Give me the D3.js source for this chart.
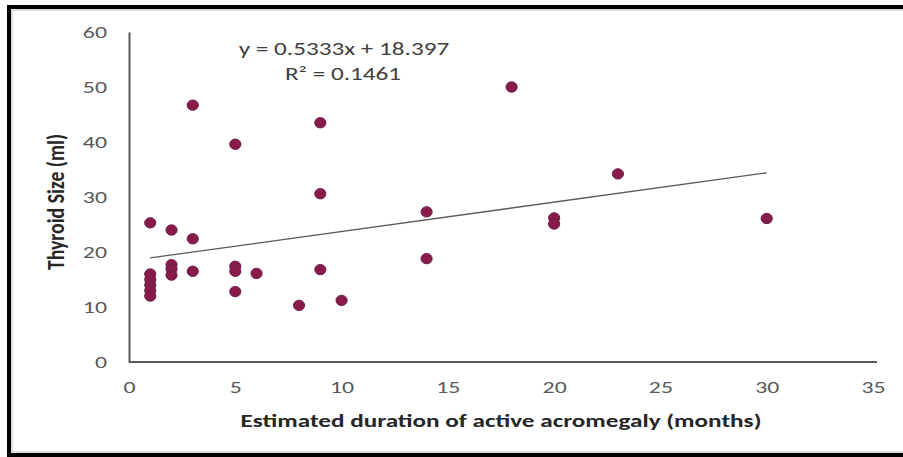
<!DOCTYPE html>
<html>
<head>
<meta charset="utf-8">
<script src="https://cdn.jsdelivr.net/npm/d3@7"></script>
<style>
  html, body { margin: 0; padding: 0; background: #fff; }
  svg { display: block; }
</style>
</head>
<body>
<svg id="chart" width="903" height="457"></svg>
<script>
// Data
const durationMonths = [1, 1, 1, 1, 1, 1, 2, 2, 2, 2, 3, 3, 3, 5, 5, 5, 5, 6, 8, 9, 9, 9, 10, 14, 14, 18, 20, 20, 23, 30];
const thyroidSize    = [25.3, 16, 15, 14, 13, 12, 24, 17.7, 16.9, 15.8, 46.7, 22.4, 16.5, 39.6, 17.4, 16.5, 12.8, 16.1, 10.3, 43.5, 30.6, 16.8, 11.2, 27.3, 18.8, 50, 26.2, 25.1, 34.2, 26.1];
const xTicks = [0, 5, 10, 15, 20, 25, 30, 35];
const yTicks = [0, 10, 20, 30, 40, 50, 60];
const slope = 0.5333, intercept = 18.397;
const trendRange = [1, 30];
const equationLabel = "y = 0.5333x + 18.397";
const r2Label = "R² = 0.1461";
const xTitle = "Estimated duration of active acromegaly (months)";
const yTitle = "Thyroid Size (ml)";

const svg = d3.select("#chart");
const font = "Carlito, Lato, 'Liberation Sans Narrow', sans-serif";
const SX = 1.4; // horizontal stretch of the text in the picture

// frame
svg.append("rect").attr("x", 0).attr("y", 0).attr("width", 903).attr("height", 457).attr("fill", "#fff");
svg.append("rect").attr("x", 9).attr("y", 7).attr("width", 1000).attr("height", 448)
  .attr("fill", "none").attr("stroke", "#000").attr("stroke-width", 4);
svg.append("rect").attr("x", 12).attr("y", 10).attr("width", 1000).attr("height", 442)
  .attr("fill", "none").attr("stroke", "#bbb").attr("stroke-width", 1);

const x = d3.scaleLinear().domain([0, 35]).range([129, 873]);
const y = d3.scaleLinear().domain([0, 60]).range([362, 32]);

// axes
const xAxis = d3.axisBottom(x).tickValues(xTicks).tickSize(0).tickPadding(0);
const gx = svg.append("g").attr("transform", `translate(0,${y(0)})`).call(xAxis);
gx.select(".domain").attr("stroke", "#595959").attr("stroke-width", 2)
  .attr("d", `M${x(0)},0H${x(35) + 4}`);
gx.selectAll(".tick text").attr("font-family", font).attr("font-size", 17).attr("fill", "#595959")
  .attr("x", 0).attr("y", 0).attr("dy", null)
  .attr("transform", `translate(0,31) scale(${SX},1)`);

const yAxis = d3.axisLeft(y).tickValues(yTicks).tickSize(0).tickPadding(0);
const gy = svg.append("g").attr("transform", `translate(${x(0)},0)`).call(yAxis);
gy.select(".domain").attr("stroke", "#595959").attr("stroke-width", 2);
gy.selectAll(".tick text").attr("font-family", font).attr("font-size", 17).attr("fill", "#595959")
  .attr("x", 0).attr("dy", "0.35em")
  .attr("transform", `translate(-22,0) scale(${SX},1)`);

// trendline
const line = d3.line().x(d => x(d)).y(d => y(slope * d + intercept));
svg.append("path").datum(trendRange).attr("d", line)
  .attr("stroke", "#5a5a5a").attr("stroke-width", 1.3).attr("fill", "none");

// points
svg.append("g").selectAll("ellipse")
  .data(durationMonths.map((d, i) => [d, thyroidSize[i]]))
  .join("ellipse")
  .attr("cx", d => x(d[0])).attr("cy", d => y(d[1])).attr("rx", 5.6).attr("ry", 5.2)
  .attr("fill", "#8a1a48").attr("stroke", "#6a2050").attr("stroke-width", 1);

function stretchedText(txt, cx, cy, size, weight, color) {
  svg.append("text").attr("transform", `translate(${cx},${cy}) scale(${SX},1)`)
    .attr("text-anchor", "middle").attr("font-family", font).attr("font-size", size)
    .attr("font-weight", weight).attr("fill", color).text(txt);
}

// equation labels
stretchedText(equationLabel, 344, 55, 18, "normal", "#404040");
stretchedText(r2Label, 343, 80, 18, "normal", "#404040");

// axis titles
stretchedText(xTitle, 501, 427, 18, "bold", "#262626");
svg.append("text").attr("transform", `translate(64,202) rotate(-90) scale(1.1,1.3)`)
  .attr("text-anchor", "middle").attr("font-family", font).attr("font-size", 18)
  .attr("font-weight", "bold").attr("fill", "#262626").text(yTitle);
</script>
</body>
</html>
